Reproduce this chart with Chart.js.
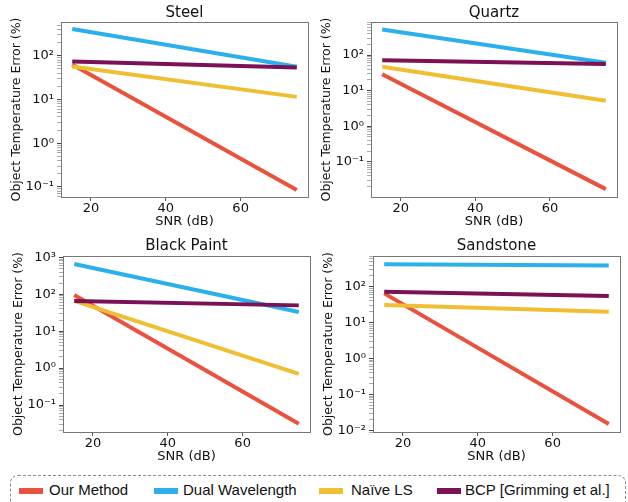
<!DOCTYPE html>
<html>
<head>
<meta charset="utf-8">
<script src="https://cdn.jsdelivr.net/npm/chart.js@4.4.1/dist/chart.umd.min.js"></script>
<style>
  body { margin: 0; background: #fff; }
  #wrap { position: relative; width: 628px; height: 502px; overflow: hidden; }
  canvas { position: absolute; }
  #legend {
    position: absolute; left: 10px; top: 475px; width: 614px; height: 40px;
    border: 1.5px dashed #8a8a8a; border-radius: 8px;
    font-family: "Liberation Sans", Arial, sans-serif; font-size: 15px; color: #111;
  }
  .sw { position: absolute; top: 12px; width: 24px; height: 6px; }
  .lb { position: absolute; top: 5px; white-space: nowrap; }
</style>
</head>
<body>
<div id="wrap">
  <canvas id="steel" width="314" height="230" style="left:0;top:0"></canvas>
  <canvas id="quartz" width="314" height="230" style="left:314px;top:0"></canvas>
  <canvas id="paint" width="314" height="235" style="left:0;top:230px"></canvas>
  <canvas id="sand" width="314" height="235" style="left:314px;top:230px"></canvas>
  <div id="legend"></div>
</div>
<script>
// SNR values (dB) where the curves were sampled
const snr = [15, 75];

const seriesNames = ['Our Method', 'Dual Wavelength', 'Naïve LS', 'BCP [Grimming et al.]'];
const seriesColors = ['#e8523f', '#2bb0ec', '#f0be32', '#7a1255'];

// object temperature error (%) per material, same order as seriesNames
const steelErr = [[63, 0.085], [410, 56], [57, 11.5], [74, 54]];
const quartzErr = [[29, 0.017], [525, 61], [47, 5.2], [72, 56]];
const paintErr = [[95, 0.031], [660, 33], [66, 0.70], [66, 50]];
const sandErr = [[65, 0.015], [420, 390], [31, 20], [72, 55]];

const xTicks = [20, 40, 60];

const sup = {'0':'⁰','1':'¹','2':'²','3':'³','4':'⁴','-':'⁻'};
function decadeLabel(v) {
  const l = Math.log10(v);
  if (Math.abs(l - Math.round(l)) > 1e-6) return '';
  return '10' + String(Math.round(l)).split('').map(c => sup[c]).join('');
}

function logTicks(min, max) {
  const out = [];
  for (let d = Math.floor(Math.log10(min)); d <= Math.ceil(Math.log10(max)); d++) {
    for (let m = 1; m <= 9; m++) {
      const v = m * Math.pow(10, d);
      if (v >= min && v <= max) out.push({value: v, major: m === 1});
    }
  }
  return out;
}

const framePlugin = {
  id: 'frame',
  afterLayout(chart) {
    // centre the title over the plot box like matplotlib
    if (chart.titleBlock) {
      chart.titleBlock.left = chart.chartArea.left;
      chart.titleBlock.right = chart.chartArea.right;
    }
  },
  afterDatasetsDraw(chart) {
    const a = chart.chartArea, ctx = chart.ctx;
    ctx.save();
    ctx.strokeStyle = '#777';
    ctx.lineWidth = 1;
    ctx.strokeRect(Math.round(a.left) + 0.5, Math.round(a.top) + 0.5,
      Math.round(a.right - a.left), Math.round(a.bottom - a.top));
    ctx.restore();
  }
};

function makePanel(id, title, errs, yMin, yMax, g) {
  const ctx = document.getElementById(id);
  return new Chart(ctx, {
    type: 'line',
    data: {
      datasets: errs.map((vals, i) => ({
        label: seriesNames[i],
        data: snr.map((x, j) => ({x: x, y: vals[j]})),
        borderColor: seriesColors[i],
        borderWidth: 4,
        pointRadius: 0,
        tension: 0,
        order: 4 - i
      }))
    },
    options: {
      responsive: false,
      animation: false,
      layout: { padding: { left: 0, right: g.padRight, top: 0, bottom: 0 } },
      plugins: {
        legend: { display: false },
        tooltip: { enabled: false },
        title: {
          display: true, text: title, color: '#111',
          font: { family: 'DejaVu Sans', size: 15, weight: 'normal' },
          padding: { top: g.titleTop, bottom: g.titleBottom }
        }
      },
      scales: {
        x: {
          type: 'linear', min: 12, max: 78,
          afterBuildTicks: s => { s.ticks = xTicks.map(v => ({value: v})); },
          afterFit: s => { s.height = 33; s.paddingLeft = 0; s.paddingRight = 0; },
          ticks: { color: '#111', padding: 0, font: { family: 'DejaVu Sans', size: 13 } },
          grid: { display: true, drawOnChartArea: false, tickLength: 4, tickColor: '#555' },
          border: { display: true, color: '#777' },
          title: {
            display: true, text: 'SNR (dB)', color: '#111',
            font: { family: 'DejaVu Sans', size: 13 },
            padding: { top: 0, bottom: g.xTitleBottom }
          }
        },
        y: {
          type: 'logarithmic', min: yMin, max: yMax,
          afterBuildTicks: s => { s.ticks = logTicks(yMin, yMax); },
          afterFit: s => { s.width = g.yWidth; s.paddingTop = 0; s.paddingBottom = 0; },
          ticks: {
            autoSkip: false, color: '#111', padding: 3,
            font: { family: 'DejaVu Sans', size: 13 },
            callback: v => decadeLabel(v)
          },
          grid: {
            display: true, drawOnChartArea: false, tickLength: 4,
            tickColor: c => (c.tick && c.tick.major) ? '#444' : '#888',
            tickWidth: c => (c.tick && c.tick.major) ? 1 : 0.7
          },
          border: { display: true, color: '#777' },
          title: {
            display: true, text: 'Object Temperature Error (%)', color: '#111',
            font: { family: 'DejaVu Sans', size: 12.5 },
            padding: { top: g.yTitleTop, bottom: 0 }
          }
        }
      }
    },
    plugins: [framePlugin]
  });
}

makePanel('steel', 'Steel', steelErr, 0.059, 593,
  {padRight: 6, yWidth: 61, titleTop: 4, titleBottom: 0, xTitleBottom: 0.2, yTitleTop: 9.2});
makePanel('quartz', 'Quartz', quartzErr, 0.0102, 850,
  {padRight: 11, yWidth: 57, titleTop: 4, titleBottom: 0, xTitleBottom: 0.2, yTitleTop: 5});
makePanel('paint', 'Black Paint', paintErr, 0.0186, 1087,
  {padRight: 4, yWidth: 63, titleTop: 7.5, titleBottom: 0.5, xTitleBottom: 0.5, yTitleTop: 11.2});
makePanel('sand', 'Sandstone', sandErr, 0.009, 713,
  {padRight: 8, yWidth: 59, titleTop: 7.5, titleBottom: 0.5, xTitleBottom: 0.5, yTitleTop: 7.2});

// legend row at the bottom
const legendPos = [[8, 38], [143, 172], [308, 340], [426, 454]];
const legend = document.getElementById('legend');
seriesNames.forEach((name, i) => {
  const sw = document.createElement('div');
  sw.className = 'sw';
  sw.style.left = legendPos[i][0] + 'px';
  sw.style.background = seriesColors[i];
  const lb = document.createElement('div');
  lb.className = 'lb';
  lb.style.left = legendPos[i][1] + 'px';
  lb.textContent = name;
  legend.appendChild(sw);
  legend.appendChild(lb);
});
</script>
</body>
</html>
